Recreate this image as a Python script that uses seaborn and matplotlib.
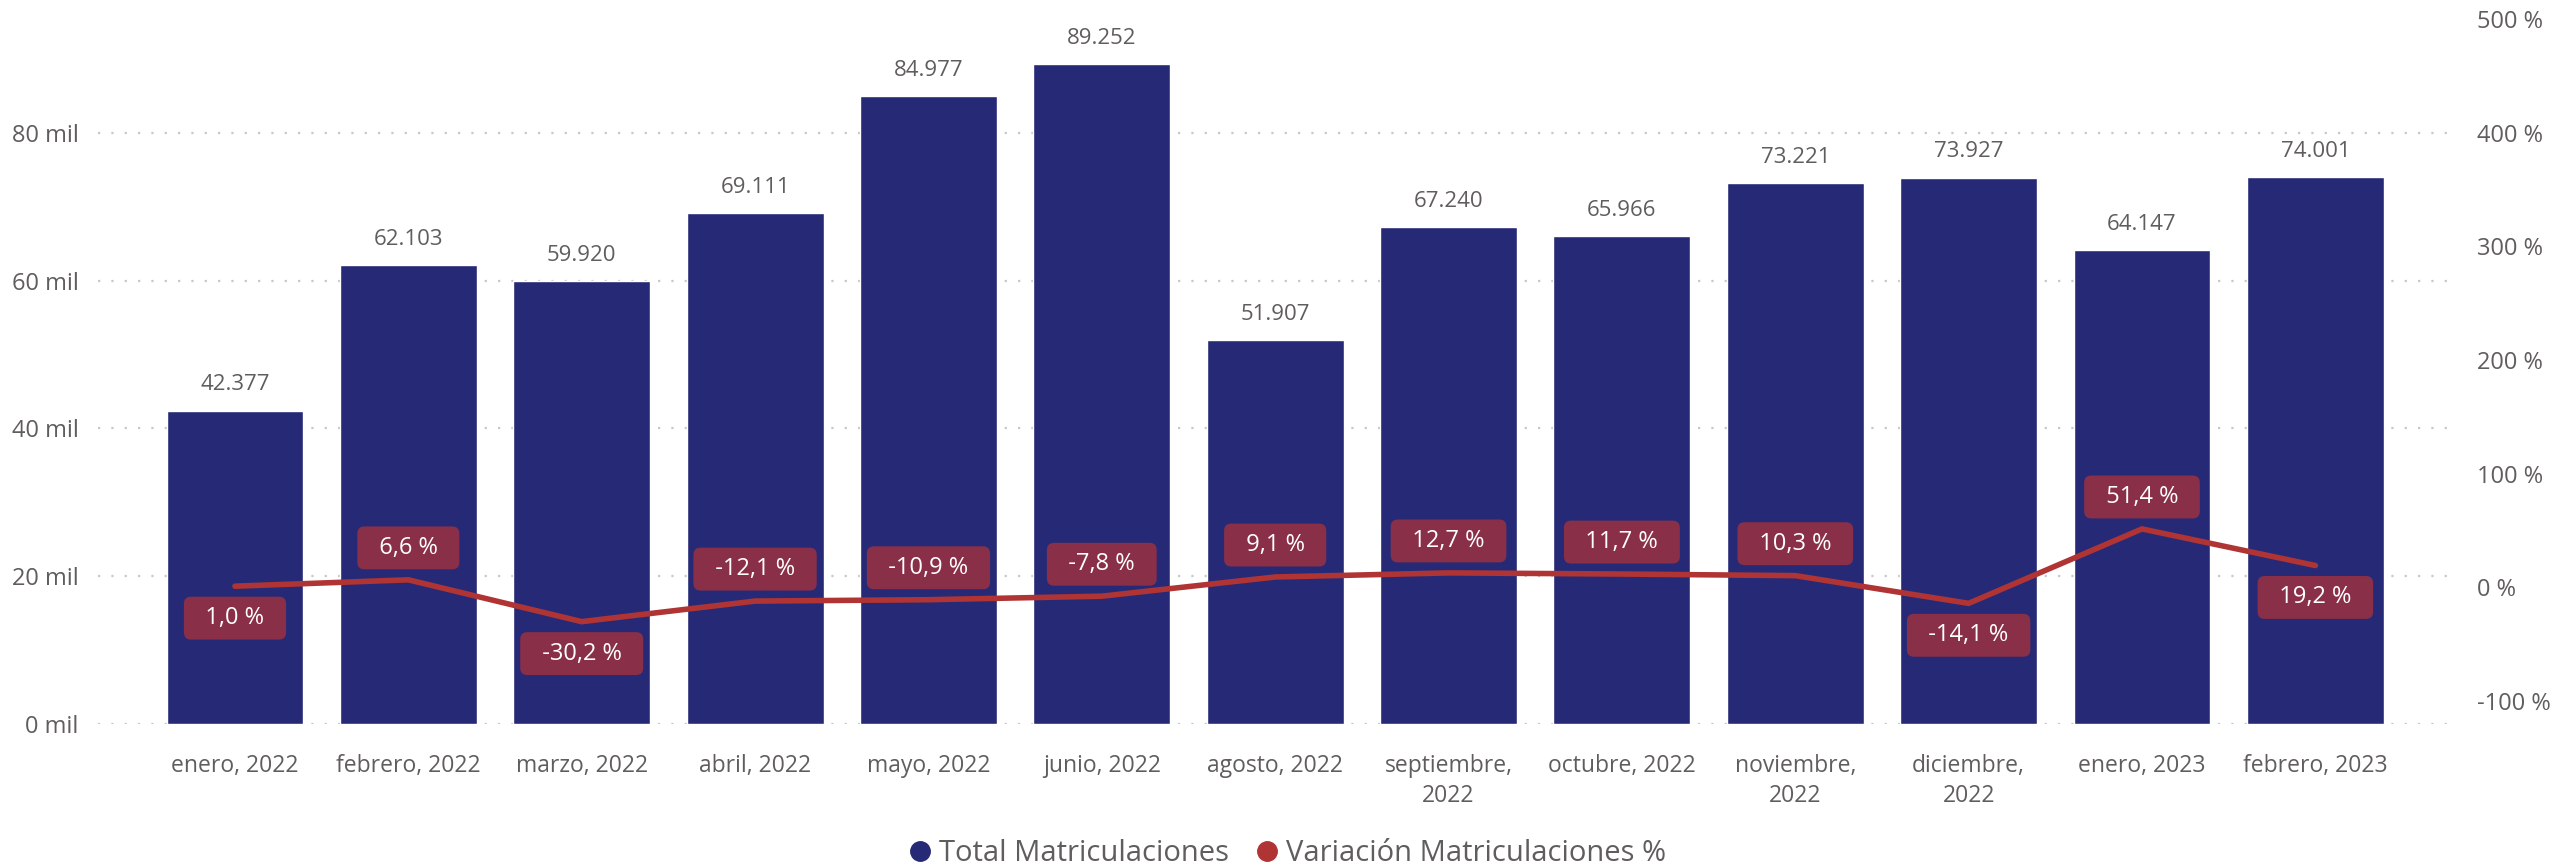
import numpy as np
import pandas as pd
import matplotlib.pyplot as plt
import seaborn as sns
from matplotlib import font_manager
from matplotlib.lines import Line2D
from matplotlib.ticker import FuncFormatter, FixedLocator

# Data
months = ['enero, 2022', 'febrero, 2022', 'marzo, 2022', 'abril, 2022', 'mayo, 2022',
          'junio, 2022', 'agosto, 2022', 'septiembre,\n2022', 'octubre, 2022',
          'noviembre,\n2022', 'diciembre,\n2022', 'enero, 2023', 'febrero, 2023']
total_matriculaciones = [42377, 62103, 59920, 69111, 84977, 89252, 51907,
                         67240, 65966, 73221, 73927, 64147, 74001]
variacion_pct = [1.0, 6.6, -30.2, -12.1, -10.9, -7.8, 9.1, 12.7, 11.7, 10.3, -14.1, 51.4, 19.2]
# label side for the % boxes: +1 above, -1 below
label_side = [-1, 1, -1, 1, 1, 1, 1, 1, 1, 1, -1, 1, -1]

bar_color = '#262A76'
line_color = '#B03434'
box_color = '#8A2F48'
text_color = '#605E5C'

df = pd.DataFrame({'Mes': months, 'Total': total_matriculaciones, 'Var': variacion_pct})
df['pos'] = np.arange(len(df))

sns.set_theme(style='white')
plt.rcParams['font.family'] = ['Open Sans', 'DejaVu Sans']

# legend in the reference uses a narrow face
installed = {f.name for f in font_manager.fontManager.ttflist}
if 'Liberation Sans Narrow' in installed:
    legend_font, legend_size = 'Liberation Sans Narrow', 27
else:
    legend_font, legend_size = 'Open Sans', 21

fig = plt.figure(figsize=(25.73, 8.68), dpi=100)
ax = fig.add_axes([0.0381, 0.166, 0.915, 0.825])

sns.barplot(data=df, x='Mes', y='Total', color=bar_color, saturation=1, width=0.79, ax=ax)
ax.set_xlim(-0.79, len(df) - 1 + 0.79)
ax.set_ylim(0, 96900)
ax.yaxis.set_major_locator(FixedLocator([0, 20000, 40000, 60000, 80000]))
ax.yaxis.set_major_formatter(FuncFormatter(lambda v, p: f"{int(v / 1000)} mil"))
ax.grid(axis='y', color='#C8C8C8', linestyle=(0, (1, 5)), linewidth=1.6)
ax.set_axisbelow(True)
ax.set_xlabel('')
ax.set_ylabel('')
ax.tick_params(axis='y', length=0, pad=14, labelsize=17, labelcolor=text_color)
ax.tick_params(axis='x', length=0, pad=22, labelsize=16.5, labelcolor=text_color)
for lbl in ax.get_xticklabels():
    lbl.set_linespacing(1.3)
    lbl.set_verticalalignment('top')
sns.despine(ax=ax, left=True, bottom=True)

ax.bar_label(ax.containers[0], labels=[f"{v:,}".replace(',', '.') for v in total_matriculaciones],
             padding=11, fontsize=16, color=text_color)

ax2 = ax.twinx()
sns.lineplot(data=df, x='pos', y='Var', color=line_color, linewidth=4, ax=ax2,
             solid_capstyle='round', solid_joinstyle='miter')
ax2.set_ylim(-120.2, 510)
ax2.yaxis.set_major_locator(FixedLocator([-100, 0, 100, 200, 300, 400, 500]))
ax2.yaxis.set_major_formatter(FuncFormatter(lambda v, p: f"{int(v)} %"))
ax2.tick_params(axis='y', length=0, pad=18, labelsize=17, labelcolor=text_color)
ax2.set_xlabel('')
ax2.set_ylabel('')
ax2.grid(False)
sns.despine(ax=ax2, left=True, bottom=True, right=True)

for i, (v, side) in enumerate(zip(variacion_pct, label_side)):
    txt = f"{v:.1f} %".replace('.', ',')
    ax2.annotate('  ' + txt + '  ', xy=(i, v), xytext=(0, 23 * side), textcoords='offset points',
                 ha='center', va='center', fontsize=17, color='white',
                 bbox=dict(boxstyle='round,pad=0.4,rounding_size=0.3', fc=box_color, ec='none'))

handles = [Line2D([], [], marker='o', linestyle='', markersize=14, color=bar_color),
           Line2D([], [], marker='o', linestyle='', markersize=14, color=line_color)]
fig.legend(handles, ['Total Matriculaciones', 'Variación Matriculaciones %'],
           loc='lower center', bbox_to_anchor=(0.497, -0.03), ncol=2, frameon=False,
           prop={'family': legend_font, 'size': legend_size},
           handletextpad=-0.35, columnspacing=0.3, labelcolor=text_color)

fig.savefig('out.png', dpi=100)
